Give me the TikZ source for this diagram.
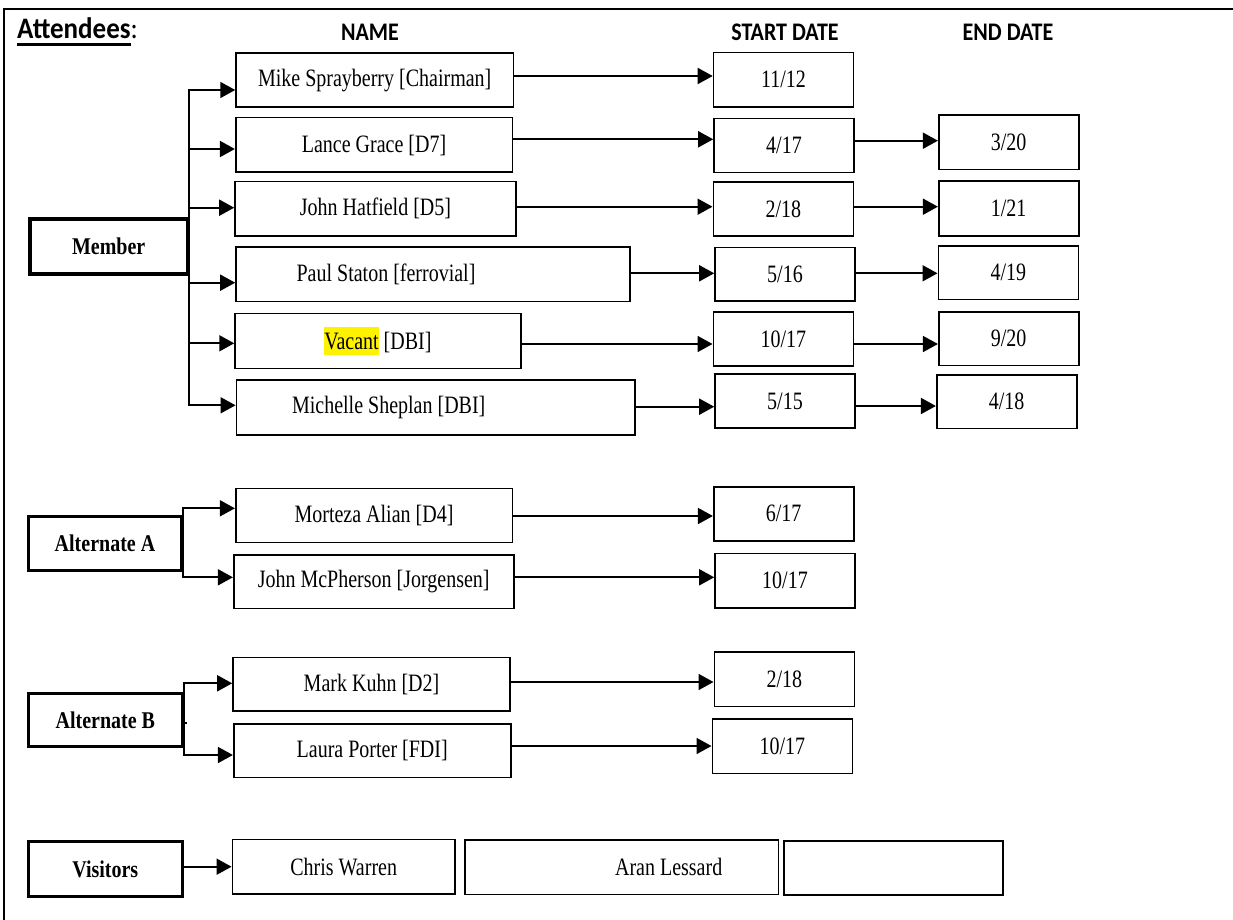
\documentclass[tikz,border=0pt]{standalone}
\usepackage{fontspec}
\setmainfont{Liberation Serif}
\newfontfamily\calfont{Carlito}
\usetikzlibrary{arrows.meta}
\newcommand\vs[1]{\scalebox{1}[1.25]{#1}}
\newcommand\vb[1]{\scalebox{1}[1.2]{\bfseries #1}}
\newcommand\vh[1]{\scalebox{1}[1.15]{\calfont\bfseries #1}}
\newcommand\myul[1]{\setbox0\hbox{#1}\rlap{\rule[-6pt]{\wd0}{2pt}}\box0}
\begin{document}
\begin{tikzpicture}[x=1pt,y=-1pt,
  nbox/.style={draw,line width=1.6pt,rectangle,inner sep=0pt,font=\fontsize{20}{24}\selectfont},
  tbox/.style={draw,line width=3.2pt,rectangle,inner sep=0pt,font=\fontsize{20}{24}\selectfont},
  head/.style={inner sep=0pt,font=\fontsize{22}{26}\selectfont},
  arr/.style={line width=1.8pt,-{Triangle[length=15pt,width=16pt]}},
  plain/.style={line width=1.8pt},
  frame/.style={line width=2.5pt}]
\useasboundingbox (0,0) rectangle (1233,920);
\draw[frame] (1233,9) -- (4,9) -- (4,920);

% headings
\node[anchor=base west,inner sep=0pt,font=\fontsize{27}{32}\selectfont] (att) at (17,39)
  {\scalebox{1}[1.1]{\calfont\myul{\bfseries Attendees}:}};
\node[head] (hname) at (370,32) {\vh{NAME}};
\node[head] (hstart) at (785,32) {\vh{START DATE}};
\node[head] (hend) at (1008,32) {\vh{END DATE}};

% group boxes
\node[tbox,minimum width=157.3pt,minimum height=55pt] (member) at (108.7,246.5) {\vb{Member}};
\node[tbox,minimum width=153.4pt,minimum height=54pt] (alta) at (105,543.7) {\vb{Alternate A}};
\node[tbox,minimum width=154pt,minimum height=53.4pt] (altb) at (105.3,720) {\vb{Alternate B}};
\node[tbox,minimum width=154pt,minimum height=55pt] (visit) at (105.3,869.2) {\vb{Visitors}};

% name boxes
\node[nbox,minimum width=277.3pt,minimum height=54pt] (mike) at (374.7,80.3) {\vs{Mike Sprayberry [Chairman]}};
\node[nbox,minimum width=276.6pt,minimum height=54.6pt] (lance) at (374,145) {\vs{Lance Grace [D7]}};
\node[nbox,minimum width=281pt,minimum height=54pt] (johnh) at (375.5,208.7) {\vs{John Hatfield [D5]}};
\node[nbox,minimum width=394pt,minimum height=54.7pt] (paul) at (433,274.3) {\vs{Paul Staton [ferrovial]\hspace*{94pt}}};
\node[nbox,minimum width=285.7pt,minimum height=55pt] (vacant) at (377.9,340.8)
  {\vs{{\setlength\fboxsep{0pt}\colorbox{yellow}{\rule[-0.22em]{0pt}{1.11em}Vacant}} [DBI]}};
\node[nbox,minimum width=398.7pt,minimum height=55pt] (michelle) at (435.7,407.5) {\vs{Michelle Sheplan [DBI]\hspace*{94pt}}};
\node[nbox,minimum width=276.6pt,minimum height=54pt] (morteza) at (374,515.3) {\vs{Morteza Alian [D4]}};
\node[nbox,minimum width=280pt,minimum height=53.3pt] (mcph) at (373.7,581.7) {\vs{John McPherson [Jorgensen]}};
\node[nbox,minimum width=277pt,minimum height=53.7pt] (kuhn) at (371.5,684.2) {\vs{Mark Kuhn [D2]}};
\node[nbox,minimum width=277pt,minimum height=53.7pt] (porter) at (372.2,750.8) {\vs{Laura Porter [FDI]}};
\node[nbox,minimum width=222.7pt,minimum height=54.7pt] (chris) at (343.7,866.7) {\vs{Chris Warren}};
\node[nbox,minimum width=313.3pt,minimum height=54.3pt] (aran) at (621.7,867.2) {\vs{\hspace*{94pt}Aran Lessard}};
\node[nbox,line width=2.2pt,minimum width=218.4pt,minimum height=54.3pt] (empty) at (893.5,867.8) {};

% start dates
\node[nbox,minimum width=140pt,minimum height=54.3pt] (s1) at (783.5,79.8) {\vs{11/12}};
\node[nbox,minimum width=140pt,minimum height=54.3pt] (s2) at (784,145.5) {\vs{4/17}};
\node[nbox,minimum width=140pt,minimum height=54pt] (s3) at (783.3,209) {\vs{2/18}};
\node[nbox,minimum width=140pt,minimum height=53.7pt] (s4) at (785,274.2) {\vs{5/16}};
\node[nbox,minimum width=140pt,minimum height=54pt] (s5) at (783.3,339) {\vs{10/17}};
\node[nbox,minimum width=140pt,minimum height=54pt] (s6) at (785,401) {\vs{5/15}};
\node[nbox,minimum width=140pt,minimum height=54pt] (s7) at (783.7,513.7) {\vs{6/17}};
\node[nbox,minimum width=140pt,minimum height=54.7pt] (s8) at (785,580.7) {\vs{10/17}};
\node[nbox,minimum width=140pt,minimum height=54.7pt] (s9) at (784.3,679.3) {\vs{2/18}};
\node[nbox,minimum width=140pt,minimum height=54.7pt] (s10) at (782.3,746.3) {\vs{10/17}};

% end dates
\node[nbox,minimum width=140pt,minimum height=54.3pt] (e2) at (1008.7,142.2) {\vs{3/20}};
\node[nbox,minimum width=140pt,minimum height=54.4pt] (e3) at (1008.7,208.5) {\vs{1/21}};
\node[nbox,minimum width=140pt,minimum height=53.6pt] (e4) at (1008.3,272.5) {\vs{4/19}};
\node[nbox,minimum width=140pt,minimum height=53.7pt] (e5) at (1008.7,338.8) {\vs{9/20}};
\node[nbox,minimum width=140pt,minimum height=53.7pt] (e6) at (1006.7,401.8) {\vs{4/18}};

% member tree
\draw[arr] (member.east) |- (mike.west |- 0,90);
\draw[arr] (member.east) |- (lance.west |- 0,149);
\draw[arr] (member.east) |- (johnh.west |- 0,207.7);
\draw[arr] (member.east) |- (paul.west |- 0,282.7);
\draw[arr] (member.east) |- (vacant.west |- 0,343.3);
\draw[arr] (member.east) |- (michelle.west |- 0,405.3);

% alternate A
\draw[arr] (alta.east) |- (morteza.west |- 0,508.3);
\draw[arr] (alta.east) |- (mcph.west |- 0,577.3);

% alternate B
\draw[arr] (altb.east) |- (kuhn.west |- 0,683.3);
\draw[arr] (altb.east) |- (porter.west |- 0,755);
\draw[plain] (altb.east |- 0,723.3) -- ++(3.5,0);

% visitors
\draw[arr] (visit.east |- 0,866.7) -- (chris.west |- 0,866.7);

% name -> start
\draw[arr] (mike.east |- 0,76) -- (s1.west |- 0,76);
\draw[arr] (lance.east |- 0,139.3) -- (s2.west |- 0,139.3);
\draw[arr] (johnh.east |- 0,206.7) -- (s3.west |- 0,206.7);
\draw[arr] (paul.east |- 0,273.3) -- (s4.west |- 0,273.3);
\draw[arr] (vacant.east |- 0,344) -- (s5.west |- 0,344);
\draw[arr] ([xshift=-2pt]michelle.east |- 0,406.7) -- (s6.west |- 0,406.7);
\draw[arr] (morteza.east |- 0,516) -- (s7.west |- 0,516);
\draw[arr] (mcph.east |- 0,577.3) -- (s8.west |- 0,577.3);
\draw[arr] (kuhn.east |- 0,682) -- (s9.west |- 0,682);
\draw[arr] (porter.east |- 0,746) -- (s10.west |- 0,746);

% start -> end
\draw[arr] (s2.east |- 0,140.7) -- (e2.west |- 0,140.7);
\draw[arr] (s3.east |- 0,206.7) -- (e3.west |- 0,206.7);
\draw[arr] (s4.east |- 0,273.3) -- (e4.west |- 0,273.3);
\draw[arr] (s5.east |- 0,344) -- (e5.west |- 0,344);
\draw[arr] (s6.east |- 0,406) -- (e6.west |- 0,406);
\end{tikzpicture}
\end{document}
